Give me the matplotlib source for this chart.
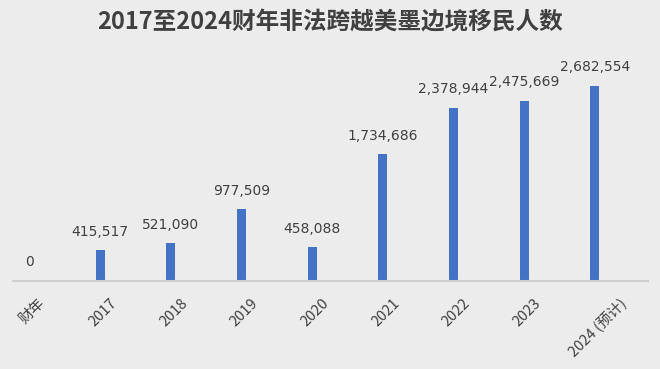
import matplotlib.pyplot as plt
import matplotlib.transforms as mtransforms

plt.rcParams['font.family'] = ['Noto Sans CJK SC', 'DejaVu Sans']

# data
categories = ['财年', '2017', '2018', '2019', '2020', '2021', '2022', '2023', '2024 (预计)']
values = [0, 415517, 521090, 977509, 458088, 1734686, 2378944, 2475669, 2682554]

bg = '#ECECEC'
bar_color = '#4472C4'
text_color = '#404040'

fig = plt.figure(figsize=(6.6, 3.69), dpi=100, facecolor=bg)
ax = fig.add_axes([0.0197, 0.2398, 0.962, 0.591], facecolor=bg)

x = range(len(categories))
ax.bar(x, values, width=0.125, color=bar_color)

# value labels above each bar
for i, v in zip(x, values):
    ax.annotate(f'{v:,}', (i, v), xytext=(0, 8), textcoords='offset points',
                ha='center', va='bottom', fontsize=10, color=text_color,
                family=['DejaVu Sans'])

ax.set_xlim(-0.233, 8.75)
ax.set_ylim(0, 3.0e6)
ax.set_yticks([])
ax.set_xticks(list(x))
ax.set_xticklabels(categories, rotation=45, ha='center', va='top',
                   fontsize=10.5, color=text_color)
ax.tick_params(axis='x', length=0, pad=11)
offset = mtransforms.ScaledTranslation(3 / 100, 0, fig.dpi_scale_trans)
for lbl in ax.get_xticklabels():
    lbl.set_transform(lbl.get_transform() + offset)

for side in ['top', 'right', 'left']:
    ax.spines[side].set_visible(False)
ax.spines['bottom'].set_color('#CFCFCF')
ax.spines['bottom'].set_linewidth(1.5)

fig.text(0.5, 0.94, '2017至2024财年非法跨越美墨边境移民人数', ha='center', va='center',
         fontsize=17, fontweight='bold', color=text_color)

fig.savefig('out.png', dpi=100, facecolor=bg)
